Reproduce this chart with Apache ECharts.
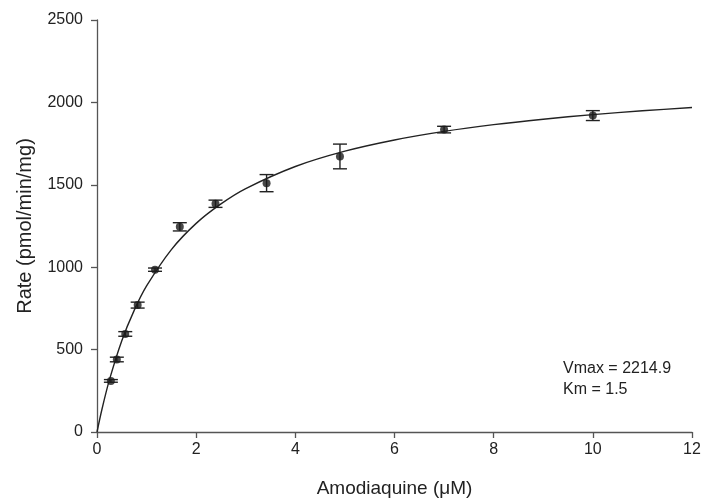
<!DOCTYPE html>
<html>
<head>
<meta charset="utf-8">
<script src="https://cdn.jsdelivr.net/npm/echarts@6/dist/echarts.min.js"></script>
<style>
  html, body { margin: 0; padding: 0; background: #fff; }
  #chart { width: 708px; height: 503px; }
</style>
</head>
<body>
<div id="chart"></div>
<script>
// measured points (concentration in uM, rate, SD)
const conc = [0.28, 0.4, 0.57, 0.82, 1.17, 1.67, 2.39, 3.42, 4.9, 7, 10];
const rate = [310, 440, 595, 770, 985, 1245, 1385, 1510, 1672, 1835, 1920];
const sd = [8, 14, 14, 18, 10, 25, 22, 52, 75, 20, 30];

// fitted curve
const fitX = [0, 0.1, 0.25, 0.5, 0.75, 1, 1.5, 2, 2.5, 3, 4, 5, 6, 7, 8, 9, 10, 11, 12];
const fitY = [0, 138, 316, 554, 738, 886, 1107, 1266, 1384, 1477, 1611, 1704, 1772, 1824, 1865, 1898, 1926, 1949, 1969];

const xTicks = [0, 2, 4, 6, 8, 10, 12];
const yTicks = [0, 500, 1000, 1500, 2000, 2500];

const font = 'Liberation Sans, Arial, sans-serif';
const axisColor = '#555';
const textColor = '#222';

const chart = echarts.init(document.getElementById('chart'));

const errData = conc.map((x, i) => [x, rate[i] - sd[i], rate[i] + sd[i]]);

chart.setOption({
  animation: false,
  grid: { left: 97, right: 16, top: 20, bottom: 70 },
  xAxis: {
    type: 'value',
    min: xTicks[0],
    max: xTicks[xTicks.length - 1],
    interval: 2,
    name: 'Amodiaquine (μM)',
    nameLocation: 'middle',
    nameGap: 47,
    nameTextStyle: { fontFamily: font, fontSize: 19, color: textColor },
    axisLine: { lineStyle: { color: axisColor, width: 1.3 } },
    axisTick: { length: 6, lineStyle: { color: axisColor, width: 1.3 } },
    axisLabel: { fontFamily: font, fontSize: 16, color: textColor, margin: 10, formatter: v => String(v) },
    splitLine: { show: false }
  },
  yAxis: {
    type: 'value',
    min: yTicks[0],
    max: yTicks[yTicks.length - 1],
    interval: 500,
    name: 'Rate (pmol/min/mg)',
    nameLocation: 'middle',
    nameGap: 62,
    nameTextStyle: { fontFamily: font, fontSize: 20, color: textColor },
    axisLine: { show: true, lineStyle: { color: axisColor, width: 1.3 } },
    axisTick: { show: true, length: 6, lineStyle: { color: axisColor, width: 1.3 } },
    axisLabel: { fontFamily: font, fontSize: 16, color: textColor, margin: 14, formatter: v => String(v) },
    splitLine: { show: false }
  },
  series: [
    {
      type: 'line',
      data: fitX.map((x, i) => [x, fitY[i]]),
      smooth: 0.3,
      showSymbol: false,
      lineStyle: { color: '#222', width: 1.4 },
      z: 2
    },
    {
      type: 'custom',
      data: errData,
      renderItem: function (params, api) {
        const x = api.value(0);
        const lo = api.coord([x, api.value(1)]);
        const hi = api.coord([x, api.value(2)]);
        const hw = 7;
        const style = { stroke: '#222', lineWidth: 1.4 };
        return {
          type: 'group',
          children: [
            { type: 'line', shape: { x1: lo[0], y1: lo[1], x2: hi[0], y2: hi[1] }, style: style },
            { type: 'line', shape: { x1: lo[0] - hw, y1: lo[1], x2: lo[0] + hw, y2: lo[1] }, style: style },
            { type: 'line', shape: { x1: hi[0] - hw, y1: hi[1], x2: hi[0] + hw, y2: hi[1] }, style: style }
          ]
        };
      },
      z: 3
    },
    {
      type: 'scatter',
      data: conc.map((x, i) => [x, rate[i]]),
      symbol: 'circle',
      symbolSize: 8,
      itemStyle: { color: '#1a1a1a' },
      z: 4
    }
  ],
  graphic: [
    {
      type: 'text',
      left: 563,
      top: 361,
      style: { text: 'Vmax = 2214.9', font: '16px ' + font, fill: textColor }
    },
    {
      type: 'text',
      left: 563,
      top: 382,
      style: { text: 'Km = 1.5', font: '16px ' + font, fill: textColor }
    }
  ]
});
</script>
</body>
</html>
